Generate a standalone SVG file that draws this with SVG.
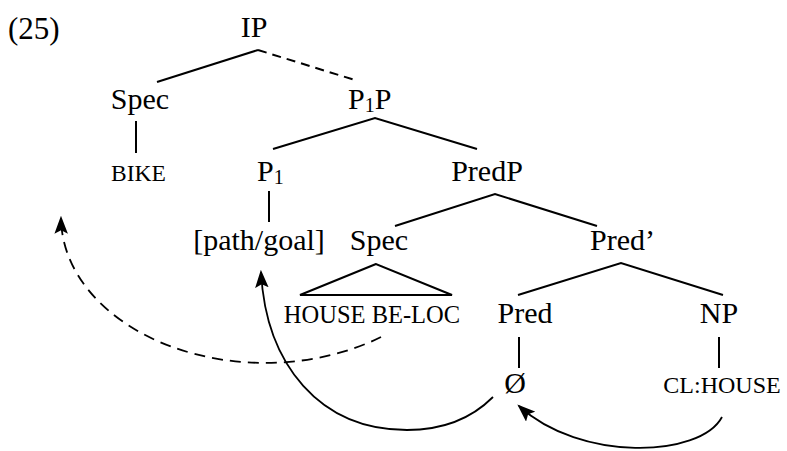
<svg xmlns="http://www.w3.org/2000/svg" width="787" height="451" viewBox="0 0 787 451">
<style>
text{font-family:"Liberation Serif","Times New Roman",serif;fill:#000}
.n{font-size:30px;text-anchor:middle}
.sc{font-size:24px;text-anchor:middle}
.e{stroke:#000;stroke-width:2;fill:none}
.c{stroke:#000;stroke-width:1.8;fill:none}
.d{stroke-dasharray:9 6}
.dc{stroke-dasharray:11 7}
</style>
<defs>
<marker id="ah" markerUnits="userSpaceOnUse" markerWidth="18" markerHeight="14" viewBox="0 0 16 12" refX="14" refY="6" orient="auto">
<path d="M0,0 L16,6 L0,12 L3,6 Z" fill="#000"/>
</marker>
</defs>
<rect width="787" height="451" fill="#fff"/>
<text x="8" y="39" style="font-size:31px">(25)</text>
<g id="IP"><text class="n" x="254" y="37">IP</text></g>
<g id="Spec1"><text class="n" x="140" y="109">Spec</text></g>
<g id="P1P"><text x="348" y="109" style="font-size:30px">P<tspan style="font-size:20px" dy="3">1</tspan><tspan dy="-3">P</tspan></text></g>
<g id="BIKE"><text class="sc" x="138.5" y="181" style="font-size:23.5px">BIKE</text></g>
<g id="P1"><text x="257" y="181" style="font-size:30px">P<tspan style="font-size:20px" dy="3">1</tspan></text></g>
<g id="PredP"><text class="n" x="487" y="181">PredP</text></g>
<g id="pathgoal"><text class="n" x="259" y="250">[path/goal]</text></g>
<g id="Spec2"><text class="n" x="379" y="250">Spec</text>
<path class="e" d="M376,264 L300,295 L452,295 Z"/></g>
<g id="PredBar"><text class="n" x="622.5" y="250">Pred’</text></g>
<g id="HOUSEBELOC"><text class="sc" x="372" y="323" style="font-size:24.5px">HOUSE BE-LOC</text></g>
<g id="Pred"><text class="n" x="525" y="323">Pred</text></g>
<g id="NP"><text class="n" x="719" y="323">NP</text></g>
<g id="Null"><text class="n" x="515" y="393">Ø</text></g>
<g id="CLHOUSE"><text class="sc" x="722" y="393">CL:HOUSE</text></g>
<g id="connectors">
<path class="e" d="M157,82 L258,50"/>
<path class="e d" d="M258,50 L358,81"/>
<path class="e" d="M136,121 L136,153"/>
<path class="e" d="M273,149 L375,118 L477,149"/>
<path class="e" d="M269,191 L269,222"/>
<path class="e" d="M395,226 L495,194 L597,226"/>
<path class="e" d="M518,295 L621,263 L723,295"/>
<path class="e" d="M519,337 L519,368"/>
<path class="e" d="M719,337 L719,368"/>
<path class="c dc" marker-end="url(#ah)" d="M381,337 A 204 146 0 0 1 61,218"/>
<path class="c" marker-end="url(#ah)" d="M493,397 C 470,420 440,430 407,430 C 320,430 266,365 261,272"/>
<path class="c" marker-end="url(#ah)" d="M722,417 C 700,458 580,462 519,406"/>
</g>
</svg>
